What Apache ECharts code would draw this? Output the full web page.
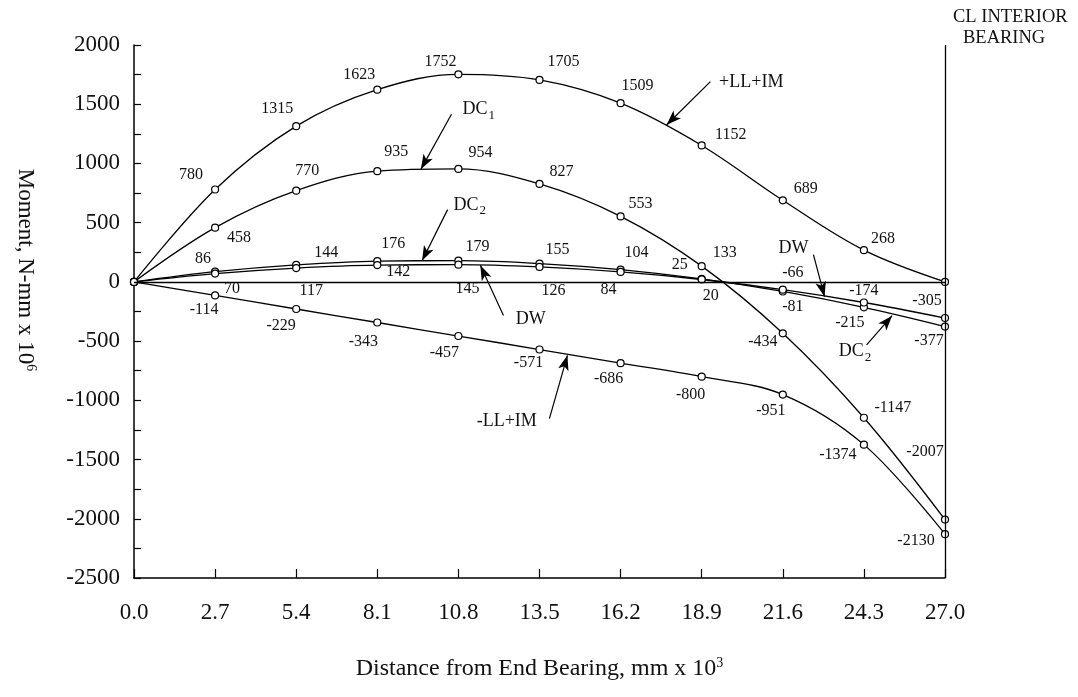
<!DOCTYPE html>
<html>
<head>
<meta charset="utf-8">
<title>Moment envelope</title>
<script src="https://cdn.jsdelivr.net/npm/echarts@6/dist/echarts.min.js"></script>
<style>
html,body{margin:0;padding:0;background:#fff;}
#main{width:1078px;height:697px;}
</style>
</head>
<body>
<div id="main"></div>
<script>
// distance from end bearing, mm x 10^3
var distance=[0,2.7,5.4,8.1,10.8,13.5,16.2,18.9,21.6,24.3,27.0];
// moments, N-mm x 10^6
var posLLIM=[0,780,1315,1623,1752,1705,1509,1152,689,268,0];
var negLLIM=[0,-114,-229,-343,-457,-571,-686,-800,-951,-1374,-2130];
var dc1=[0,458,770,935,954,827,553,133,-434,-1147,-2007];
var dc2=[0,86,144,176,179,155,104,25,-81,-215,-377];
var dw=[0,70,117,142,145,126,84,20,-66,-174,-305];

var font='"Liberation Serif","Times New Roman",serif';

// where each value label sits from its point (px), null = no label
var posOff=[null,[-24,-15],[-19,-17],[-18,-15],[-18,-13],[24,-18],[17,-17],[29,-11],[23,-11],[19,-11],null];
var dc1Off=[null,[24,10],[11,-20],[19,-19],[22,-16],[22,-12],[20,-13],[23,-13],[-20,9],[29,-10],[-20,-68]];
var negOff=[null,[-11,14],[-15,17],[-14,19],[-14,17],[-11,13],[-12,16],[-11,18],[-12,16],[-26,10],[-29,7]];
var dc2Off=[null,[-12,-13],[30,-12],[16,-17],[19,-14],[18,-14],[16,-17],[-22,-14],[10,15],[-14,15],[-16,14]];
var dwOff=[null,[17,15],[15,23],[21,7],[9,24],[14,24],[-12,18],[9,16],[10,-17],[0,-12],[-18,-17]];

function buildData(vals,offs){
    var arr=[];
    for(var i=0;i<vals.length;i++){
        var item={value:[distance[i],vals[i]]};
        if(offs[i]){
            item.label={show:true,offset:offs[i]};
        }
        arr.push(item);
    };
    return arr;
};

function lineSeries(name,vals,offs){
    return {
        name:name,
        type:'line',
        data:buildData(vals,offs),
        smooth:0.35,
        symbol:'circle',
        symbolSize:7,
        showAllSymbol:true,
        lineStyle:{color:'#000',width:1.3},
        itemStyle:{color:'#fff',borderColor:'#000',borderWidth:1.2},
        label:{
            show:false,
            position:'inside',
            color:'#111',
            fontFamily:font,
            fontSize:16,
            formatter:function(p){return p.value[1];}
        },
        emphasis:{disabled:true}
    };
};

function arrow(from,to){
    return [{coord:from},{coord:to}];
};

function note(x,y,text,align){
    return {coord:[x,y],label:{formatter:text,align:align||'center'}};
};

var myChart=echarts.init(document.getElementById('main'));

var sPos=lineSeries('+LL+IM',posLLIM,posOff);
var sDc1=lineSeries('DC1',dc1,dc1Off);
var sNeg=lineSeries('-LL+IM',negLLIM,negOff);
var sDc2=lineSeries('DC2',dc2,dc2Off);
var sDw=lineSeries('DW',dw,dwOff);

// zero line and CL of interior bearing
sDw.markLine={
    silent:true,
    symbol:['none','none'],
    label:{show:false},
    lineStyle:{color:'#000',width:1.3,type:'solid'},
    data:[
        arrow([0,0],[27,0]),
        arrow([27,2000],[27,-2500])
    ]
};

// pointer arrows
sNeg.markLine={
    silent:true,
    symbol:['none','arrow'],
    symbolSize:[8,15],
    label:{show:false},
    lineStyle:{color:'#000',width:1.2,type:'solid'},
    itemStyle:{color:'#000'},
    data:[
        arrow([19.19,1691],[17.73,1325]),
        arrow([10.57,1415],[9.55,950]),
        arrow([10.44,610],[9.59,178]),
        arrow([12.3,-283],[11.53,140]),
        arrow([22.62,231],[22.99,-125]),
        arrow([24.39,-532],[25.24,-285]),
        arrow([13.83,-1155],[14.43,-620])
    ]
};

// curve names
sNeg.markPoint={
    silent:true,
    symbol:'circle',
    symbolSize:0,
    label:{
        show:true,
        position:'inside',
        color:'#111',
        fontFamily:font,
        fontSize:18,
        rich:{
            a:{fontFamily:font,fontSize:18,color:'#111'},
            b:{fontFamily:font,fontSize:13,color:'#111',verticalAlign:'bottom',padding:[12,0,0,1]}
        }
    },
    data:[
        note(20.55,1686,'+LL+IM'),
        note(10.94,1454,'{a|DC}{b|1}','left'),
        note(10.64,649,'{a|DC}{b|2}','left'),
        note(12.71,-315,'DW','left'),
        note(21.96,288,'DW'),
        note(23.46,-585,'{a|DC}{b|2}','left'),
        note(12.41,-1177,'-LL+IM')
    ]
};

var option={
    backgroundColor:'#fff',
    animation:false,
    grid:{left:134,right:133,top:45,bottom:119},
    xAxis:{
        type:'value',
        min:0,
        max:27,
        interval:2.7,
        name:'{a|Distance from End Bearing, mm x 10}{sup|3}',
        nameLocation:'middle',
        nameGap:78,
        nameTextStyle:{
            rich:{
                a:{fontFamily:font,fontSize:24,color:'#111'},
                sup:{fontFamily:font,fontSize:14,color:'#111',verticalAlign:'top',padding:[0,0,12,0]}
            }
        },
        axisLine:{onZero:false,lineStyle:{color:'#000',width:1.5}},
        axisTick:{inside:true,length:9,lineStyle:{color:'#000',width:1.2}},
        axisLabel:{
            margin:23,
            color:'#111',
            fontFamily:font,
            fontSize:23,
            formatter:function(v){return v.toFixed(1);}
        },
        splitLine:{show:false}
    },
    yAxis:{
        type:'value',
        min:-2500,
        max:2000,
        interval:250,
        axisLine:{show:true,onZero:false,lineStyle:{color:'#000',width:1.5}},
        axisTick:{show:true,inside:true,length:7,lineStyle:{color:'#000',width:1.2}},
        axisLabel:{
            margin:14,
            color:'#111',
            fontFamily:font,
            fontSize:23,
            formatter:function(v){return v%500===0?v:'';}
        },
        splitLine:{show:false}
    },
    graphic:[
        {
            type:'text',
            x:25,
            y:270,
            rotation:-Math.PI/2,
            style:{
                text:'{a|Moment, N-mm x 10}{sup|6}',
                align:'center',
                verticalAlign:'middle',
                rich:{
                    a:{fontFamily:font,fontSize:23,fill:'#111'},
                    sup:{fontFamily:font,fontSize:14,fill:'#111',verticalAlign:'top',padding:[0,0,11,0]}
                }
            }
        },
        {
            type:'text',
            x:953,
            y:17,
            style:{text:'CL INTERIOR',fill:'#111',font:'18.5px '+font,verticalAlign:'middle'}
        },
        {
            type:'text',
            x:963,
            y:38,
            style:{text:'BEARING',fill:'#111',font:'18.5px '+font,verticalAlign:'middle'}
        }
    ],
    series:[sPos,sDc1,sNeg,sDc2,sDw]
};

myChart.setOption(option);
</script>
</body>
</html>
